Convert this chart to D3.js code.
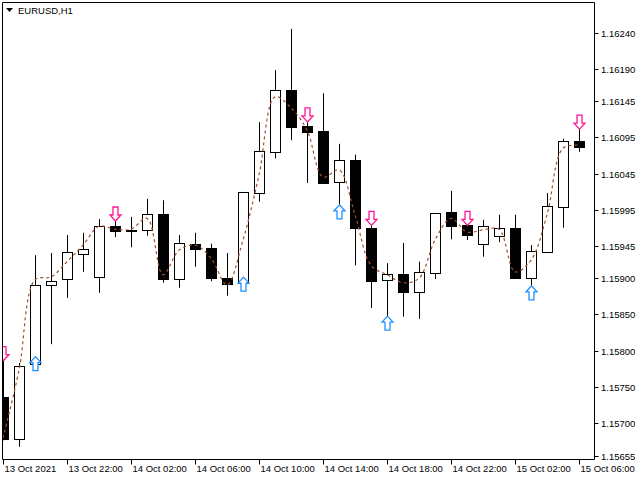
<!DOCTYPE html>
<html><head><meta charset="utf-8">
<script src="https://cdn.jsdelivr.net/npm/d3@7"></script>
<style>body{margin:0;background:#fff}svg{display:block}text{font-family:"Liberation Sans",Arial,sans-serif;font-size:9.5px;fill:#000}</style>
</head><body>
<svg id="c" width="640" height="480"></svg>
<script>
const times = ["13 Oct 18:00","13 Oct 19:00","13 Oct 20:00","13 Oct 21:00","13 Oct 22:00","13 Oct 23:00","14 Oct 00:00","14 Oct 01:00","14 Oct 02:00","14 Oct 03:00","14 Oct 04:00","14 Oct 05:00","14 Oct 06:00","14 Oct 07:00","14 Oct 08:00","14 Oct 09:00","14 Oct 10:00","14 Oct 11:00","14 Oct 12:00","14 Oct 13:00","14 Oct 14:00","14 Oct 15:00","14 Oct 16:00","14 Oct 17:00","14 Oct 18:00","14 Oct 19:00","14 Oct 20:00","14 Oct 21:00","14 Oct 22:00","14 Oct 23:00","15 Oct 00:00","15 Oct 01:00","15 Oct 02:00","15 Oct 03:00","15 Oct 04:00","15 Oct 05:00","15 Oct 06:00"];
const open  = [1.15736,1.15678,1.15782,1.15891,1.15899,1.15934,1.15902,1.15972,1.15967,1.15967,1.15989,1.15899,1.15948,1.15942,1.15900,1.15894,1.16018,1.16075,1.16160,1.16111,1.16104,1.16033,1.16064,1.15970,1.15898,1.15906,1.15881,1.15907,1.15992,1.15974,1.15948,1.15959,1.15970,1.15900,1.15936,1.15999,1.16090];
const high  = [1.15787,1.15783,1.15932,1.15935,1.15960,1.15963,1.15982,1.15989,1.15985,1.16010,1.16008,1.15960,1.15963,1.15948,1.15935,1.16019,1.16116,1.16188,1.16245,1.16126,1.16156,1.16086,1.16071,1.15983,1.15921,1.15949,1.15923,1.15990,1.16021,1.15983,1.15981,1.15988,1.15988,1.15946,1.16018,1.16093,1.16116];
const low   = [1.15676,1.15667,1.15779,1.15809,1.15873,1.15909,1.15880,1.15957,1.15943,1.15959,1.15894,1.15887,1.15916,1.15896,1.15876,1.15892,1.16006,1.16066,1.16091,1.16032,1.16032,1.15992,1.15918,1.15859,1.15838,1.15847,1.15844,1.15899,1.15954,1.15953,1.15930,1.15950,1.15899,1.15880,1.15935,1.15970,1.16075];
const close = [1.15678,1.15779,1.15891,1.15896,1.15936,1.15941,1.15972,1.15965,1.15967,1.15989,1.15899,1.15949,1.15941,1.15900,1.15892,1.16019,1.16076,1.16160,1.16109,1.16102,1.16032,1.16064,1.15970,1.15896,1.15906,1.15881,1.15909,1.15990,1.15972,1.15960,1.15972,1.15970,1.15900,1.15938,1.16000,1.16090,1.16082];
const maLine = [1.15679,1.15773,1.15898,1.15902,1.15923,1.15946,1.15972,1.15968,1.15968,1.15983,1.15905,1.15939,1.15946,1.15928,1.15891,1.15953,1.16043,1.16151,1.16136,1.16105,1.16040,1.16050,1.15988,1.15918,1.15905,1.15894,1.15900,1.15953,1.15983,1.15964,1.15967,1.15968,1.15909,1.15925,1.15988,1.16080,1.16084];
const sellIdx = [0,7,19,23,29,36];
const sellAt  = [1.15796,1.15989,1.16126,1.15983,1.15983,1.16116];
const buyIdx = [2,15,21,24,33];
const buyAt  = [1.15782,1.15892,1.15992,1.15838,1.15880];
const yTicks = [1.16240,1.16190,1.16145,1.16095,1.16045,1.15995,1.15945,1.15900,1.15850,1.15800,1.15750,1.15700,1.15655];
const xTickIdx = [0,4,8,12,16,20,24,28,32,36];
const xTickLabels = ["13 Oct 2021","13 Oct 22:00","14 Oct 02:00","14 Oct 06:00","14 Oct 10:00","14 Oct 14:00","14 Oct 18:00","14 Oct 22:00","15 Oct 02:00","15 Oct 06:00"];
const title = "EURUSD,H1";

const svg = d3.select("#c");
const L=2.5, T=2.5, R=594.5, B=459.5;
const y = d3.scaleLinear().domain([1.15655,1.16240]).range([455.5,32.5]);
const x = d3.scaleLinear().domain([0,36]).range([3,579]);
svg.append("clipPath").attr("id","cp").append("rect").attr("x",L).attr("y",T).attr("width",R-L).attr("height",B-T);
const g = svg.append("g").attr("clip-path","url(#cp)");
const px = v=>Math.round(v)+0.5;

times.forEach((t,i)=>{
  const cx = px(x(i));
  g.append("line").attr("x1",cx).attr("x2",cx).attr("y1",y(high[i])).attr("y2",y(low[i])).attr("stroke","#000");
  const top = Math.round(y(Math.max(open[i],close[i]))), bot = Math.round(y(Math.min(open[i],close[i])));
  const up = close[i]>=open[i];
  g.append("rect").attr("x",cx-5).attr("y",top+0.5).attr("width",10).attr("height",Math.max(1,bot-top))
   .attr("fill", up?"#fff":"#000").attr("stroke","#000");
});
g.append("path").datum(maLine).attr("fill","none").attr("stroke","#a0522d").attr("stroke-width",1.2)
 .attr("stroke-dasharray","3,3")
 .attr("d", d3.line().x((d,i)=>x(i)).y(d=>y(d)).curve(d3.curveCatmullRom));

function arrow(cx, midY, dir, color){
  const s = dir, h = 14, hw = 5.5, sw = 2.5, headH = 6;
  const tipY = midY + s*h/2, b = tipY - s*h;
  const pts = [[cx,tipY],[cx-hw,tipY-s*headH],[cx-sw,tipY-s*headH],[cx-sw,b],[cx+sw,b],[cx+sw,tipY-s*headH],[cx+hw,tipY-s*headH]];
  g.append("polygon").attr("points",pts.map(p=>p.join(",")).join(" ")).attr("fill","#fff").attr("stroke",color).attr("stroke-width",1.3);
}
sellIdx.forEach((i,k)=>arrow(px(x(i)), y(sellAt[k]), 1, "#ff1493"));
buyIdx.forEach((i,k)=>arrow(px(x(i)), y(buyAt[k]), -1, "#1e90ff"));

svg.append("path").attr("d",`M${L},${B}V${T}H${R}V${B}H${L}`).attr("fill","none").attr("stroke","#000");
yTicks.forEach(v=>{
  const yy = px(y(v));
  svg.append("line").attr("x1",R).attr("x2",R+4).attr("y1",yy).attr("y2",yy).attr("stroke","#000");
  svg.append("text").attr("x",601).attr("y",yy+3.5).text(v.toFixed(5));
});
xTickIdx.forEach((i,k)=>{
  const xx = px(x(i));
  svg.append("line").attr("x1",xx).attr("x2",xx).attr("y1",B).attr("y2",B+5).attr("stroke","#000");
  svg.append("text").attr("x",xx+1).attr("y",472).text(xTickLabels[k]);
});
svg.append("path").attr("d","M6,8H13L9.5,12Z").attr("fill","#000");
svg.append("text").attr("x",18).attr("y",14).text(title);
</script>
</body></html>
